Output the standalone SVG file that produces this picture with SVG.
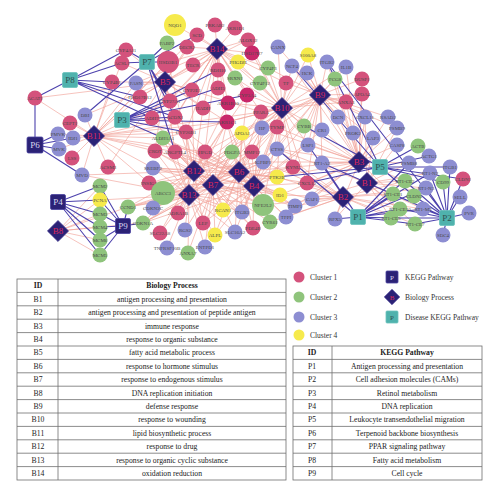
<svg xmlns="http://www.w3.org/2000/svg" width="500" height="498" viewBox="0 0 500 498">
<style>
.ep{fill:none;stroke:#f0a096;stroke-width:0.7;opacity:0.9}
.eq{fill:none;stroke:#4d42ad;stroke-width:1.1}
.c1{fill:#d4527c}.m{fill:#c8286a}.c2{fill:#8fc47c}.c3{fill:#8d8ed2}.c4{fill:#f6ea4c}
.lb{font-family:"Liberation Serif",serif;font-size:5px;fill:#4a4a4a;text-anchor:middle}
.dia{fill:#2b2276;stroke:#3d3490;stroke-width:0.6}
.bt{font-family:"Liberation Serif",serif;font-size:9px;fill:#d8285a;text-anchor:middle}
.kp{fill:#2b2276;stroke:#4a42a0;stroke-width:0.8}
.dp{fill:#4fb2ad;stroke:#6cc3bd;stroke-width:0.8}
.kt{font-family:"Liberation Serif",serif;font-size:9px;fill:#d8d8f0;text-anchor:middle}
.dt{font-family:"Liberation Serif",serif;font-size:9px;fill:#2f4f4f;text-anchor:middle}
.lg{font-family:"Liberation Serif",serif;font-size:7.5px;fill:#333}
.tb{font-family:"Liberation Serif",serif;font-size:7.7px;fill:#222;text-anchor:middle}
.th{font-family:"Liberation Serif",serif;font-size:7.7px;fill:#222;text-anchor:middle;font-weight:bold}
.tl{stroke:#6e6e6e;stroke-width:0.8;fill:none}
</style>
<rect width="500" height="498" fill="#ffffff"/>
<g id="connectors">
<path id="e-B14" class="ep" d="M217 49L175 25M217 49L215 25M217 49L197 35M217 49L235 28M217 49L248 40M217 49L187 47M217 49L252 53M217 49L193 65M217 49L218 70M217 49L168 62M217 49L238 62M217 49L235 78M217 49L268 68M217 49L260 83M217 49L218 88M217 49L192 90M217 49L228 103M217 49L247 95M217 49L203 108M217 49L227 122M217 49L152 118M217 49L170 101M217 49L140 97M217 49L286 83M217 49L163 138M217 49L205 152M217 49L175 117M217 49L186 132M217 49L261 112M217 49L136 83M217 49L304 126"/>
<path id="e-B5" class="ep" d="M165 82L168 62M165 82L167 43M165 82L126 50M165 82L122 63M165 82L112 82M165 82L136 83M165 82L140 97M165 82L170 101M165 82L175 117M165 82L187 47M165 82L193 65M165 82L203 108M165 82L155 151M165 82L197 35M165 82L261 112M165 82L248 40M165 82L35 98M165 82L175 152M165 82L192 90M165 82L152 118M165 82L108 167M165 82L227 122M165 82L85 115"/>
<path id="e-B11" class="ep" d="M94 136L85 115M94 136L70 123M94 136L58 134M94 136L73 138M94 136L59 149M94 136L72 158M94 136L108 167M94 136L82 175M94 136L153 168M94 136L149 183M94 136L163 138M94 136L155 151M94 136L175 152M94 136L140 97M94 136L136 83M94 136L112 82M94 136L197 35M94 136L168 62M94 136L170 101M94 136L175 117M94 136L186 132M94 136L205 152M94 136L261 112M94 136L227 122M94 136L35 98M94 136L126 50"/>
<path id="e-B12" class="ep" d="M194 171L163 138M194 171L155 151M194 171L175 152M194 171L205 152M194 171L186 132M194 171L227 122M194 171L152 118M194 171L175 117M194 171L163 193M194 171L149 183M194 171L153 168M194 171L128 207M194 171L143 223M194 171L160 233M194 171L178 213M194 171L223 210M194 171L263 205M194 171L203 223M194 171L232 152M194 171L252 152M194 171L242 133M194 171L262 128M194 171L263 162M194 171L277 177M194 171L192 90M194 171L247 95M194 171L168 62M194 171L280 195M194 171L253 228M194 171L153 208M194 171L82 175M194 171L203 108M194 171L228 103"/>
<path id="e-B13" class="ep" d="M189 195L163 193M189 195L128 207M189 195L143 223M189 195L153 208M189 195L160 233M189 195L167 248M189 195L185 230M189 195L205 247M189 195L188 253M189 195L215 235M189 195L203 223M189 195L178 213M189 195L223 210M189 195L149 183M189 195L153 168M189 195L163 138M189 195L175 152M189 195L205 152M189 195L227 122M189 195L186 132M189 195L263 205M189 195L242 212M189 195L235 232M189 195L82 175M189 195L155 151M189 195L232 152M189 195L242 133M189 195L252 152M189 195L100 200"/>
<path id="e-B7" class="ep" d="M213 185L163 193M213 185L178 213M213 185L203 223M213 185L223 210M213 185L215 235M213 185L235 232M213 185L242 212M213 185L263 205M213 185L270 222M213 185L253 228M213 185L232 152M213 185L252 152M213 185L242 133M213 185L262 128M213 185L205 152M213 185L175 152M213 185L155 151M213 185L163 138M213 185L227 122M213 185L186 132M213 185L261 112M213 185L143 223M213 185L128 207M213 185L205 247M213 185L188 253M213 185L263 162M213 185L293 167M213 185L295 206M213 185L277 177M213 185L280 195M213 185L277 127M213 185L153 168M213 185L149 183M213 185L185 230"/>
<path id="e-B6" class="ep" d="M239 172L263 205M239 172L223 210M239 172L242 212M239 172L253 228M239 172L280 195M239 172L277 177M239 172L263 162M239 172L252 152M239 172L232 152M239 172L242 133M239 172L262 128M239 172L277 149M239 172L277 127M239 172L261 112M239 172L227 122M239 172L247 95M239 172L186 132M239 172L205 152M239 172L175 152M239 172L163 138M239 172L155 151M239 172L163 193M239 172L203 223M239 172L143 223M239 172L128 207M239 172L153 168M239 172L149 183M239 172L270 222M239 172L295 206M239 172L286 217M239 172L293 167M239 172L307 183M239 172L235 232M239 172L215 235"/>
<path id="e-B4" class="ep" d="M254 186L263 205M254 186L280 195M254 186L277 177M254 186L270 222M254 186L286 217M254 186L295 206M254 186L312 199M254 186L293 167M254 186L307 183M254 186L263 162M254 186L242 212M254 186L253 228M254 186L235 232M254 186L223 210M254 186L203 223M254 186L215 235M254 186L277 149M254 186L308 145M254 186L262 128M254 186L242 133M254 186L252 152M254 186L232 152M254 186L261 112M254 186L277 127M254 186L322 130M254 186L304 126M254 186L163 193M254 186L128 207M254 186L143 223M254 186L227 122M254 186L205 152M254 186L175 152M254 186L163 138M254 186L153 168"/>
<path id="e-B10" class="ep" d="M282 108L286 83M282 108L261 112M282 108L260 83M282 108L268 68M282 108L235 78M282 108L238 62M282 108L252 53M282 108L248 40M282 108L278 47M282 108L308 55M282 108L292 66M282 108L307 73M282 108L262 128M282 108L277 127M282 108L304 126M282 108L277 149M282 108L263 162M282 108L293 167M282 108L242 133M282 108L227 122M282 108L252 152M282 108L232 152M282 108L322 130M282 108L308 145M282 108L242 212M282 108L307 183M282 108L277 177M282 108L263 205M282 108L362 94M282 108L346 102M282 108L247 95M282 108L228 103M282 108L163 138M282 108L205 152M282 108L346 67"/>
<path id="e-B9" class="ep" d="M320 95L308 55M320 95L292 66M320 95L307 73M320 95L327 62M320 95L346 67M320 95L335 79M320 95L362 79M320 95L362 94M320 95L346 102M320 95L338 117M320 95L365 117M320 95L388 117M320 95L304 126M320 95L322 130M320 95L308 145M320 95L262 128M320 95L277 127M320 95L277 149M320 95L286 83M320 95L397 128M320 95L353 133M320 95L278 47M320 95L307 183M320 95L293 167M320 95L263 162M320 95L373 138M320 95L322 163M320 95L242 133M320 95L261 112M320 95L268 68"/>
<path id="e-B3" class="ep" d="M359 162L338 117M359 162L365 117M359 162L388 117M359 162L353 133M359 162L373 138M359 162L397 128M359 162L397 145M359 162L322 163M359 162L409 163M359 162L308 145M359 162L322 130M359 162L304 126M359 162L327 62M359 162L346 67M359 162L346 102M359 162L362 94M359 162L362 79M359 162L335 79M359 162L307 73M359 162L292 66M359 162L277 149M359 162L263 162M359 162L293 167M359 162L307 183M359 162L312 199M359 162L335 219M359 162L262 128M359 162L277 127M359 162L277 177M359 162L405 181M359 162L393 194M359 162L280 195M359 162L295 206M359 162L286 217"/>
<path id="e-B1" class="ep" d="M367 183L322 163M367 183L430 173M367 183L426 188M367 183L423 209M367 183L405 181M367 183L393 194M367 183L400 209M367 183L391 218M367 183L415 224M367 183L335 219M367 183L409 163M367 183L397 128M367 183L373 138M367 183L397 145M367 183L277 149M367 183L312 199M367 183L365 117"/>
<path id="e-B2" class="ep" d="M343 197L322 163M343 197L426 188M343 197L423 209M343 197L393 194M343 197L400 209M343 197L391 218M343 197L415 224M343 197L405 181M343 197L335 219M343 197L312 199M343 197L286 217M343 197L307 183M343 197L293 167M343 197L277 177M343 197L280 195M343 197L295 206M343 197L277 149M343 197L263 162M343 197L263 205M343 197L270 222"/>
<path id="e-B8" class="ep" d="M58 231L100 186M58 231L100 200M58 231L100 214M58 231L100 227M58 231L100 240M58 231L100 255M58 231L128 207M58 231L143 223"/>
<path id="e-P1" class="eq" d="M358 217L335 219M358 217L391 218M358 217L400 209M358 217L393 194M358 217L415 224M358 217L423 209M358 217L426 188M358 217L430 173M358 217L405 181M358 217L322 163M358 217L277 149M358 217L308 145M358 217L409 163"/>
<path id="e-P2" class="eq" d="M447 218L430 173M447 218L426 188M447 218L423 209M447 218L405 181M447 218L393 194M447 218L400 209M447 218L391 218M447 218L415 224M447 218L414 196M447 218L443 182M447 218L463 179M447 218L460 197M447 218L469 213M447 218L443 235M447 218L450 167M447 218L327 62M447 218L322 163"/>
<path id="e-P5" class="eq" d="M380 167L418 146M380 167L429 156M380 167L450 167M380 167L414 196M380 167L463 179M380 167L327 62M380 167L292 66M380 167L304 126M380 167L277 177M380 167L307 183M380 167L443 182"/>
<path id="e-P3" class="eq" d="M122 120L152 118M122 120L163 138M122 120L218 70M122 120L186 132M122 120L247 95M122 120L192 90M122 120L227 122M122 120L218 88M122 120L175 117"/>
<path id="e-P6" class="eq" d="M35 145L35 98M35 145L58 134M35 145L73 138M35 145L59 149M35 145L82 175"/>
<path id="e-P7" class="eq" d="M147 62L167 43M147 62L126 50M147 62L122 63M147 62L85 115M147 62L197 35M147 62L170 101M147 62L175 117M147 62L175 152M147 62L168 62"/>
<path id="e-P8" class="eq" d="M70 80L126 50M70 80L122 63M70 80L112 82M70 80L35 98M70 80L152 118M70 80L175 117M70 80L140 97"/>
<path id="e-P4" class="eq" d="M58 202L100 186M58 202L100 200M58 202L100 214M58 202L100 227M58 202L100 240M58 202L100 255"/>
<path id="e-P9" class="eq" d="M123 226L100 186M123 226L100 200M123 226L100 214M123 226L100 227M123 226L100 240M123 226L100 255M123 226L128 207M123 226L143 223"/>
</g>
<g id="nodes">
<g id="NQO1"><circle class="c4" cx="175" cy="25" r="11"/><text class="lb" x="175" y="26.8">NQO1</text></g>
<g id="PRKAB2"><circle class="c1" cx="215" cy="25" r="7.5"/><text class="lb" x="215" y="26.8">PRKAB2</text></g>
<g id="SCD"><circle class="c1" cx="197" cy="35" r="7.5"/><text class="lb" x="197" y="36.8">SCD</text></g>
<g id="AKR1D1"><circle class="c1" cx="235" cy="28" r="7.5"/><text class="lb" x="235" y="29.8">AKR1D1</text></g>
<g id="ALOX12"><circle class="c1" cx="248" cy="40" r="7.5"/><text class="lb" x="248" y="41.8">ALOX12</text></g>
<g id="DECR2"><circle class="c1" cx="187" cy="47" r="7.5"/><text class="lb" x="187" y="48.8">DECR2</text></g>
<g id="HSD17B7"><circle class="m" cx="252" cy="53" r="7.5"/><text class="lb" x="252" y="54.8">HSD17B7</text></g>
<g id="TECR"><circle class="c1" cx="193" cy="65" r="7.5"/><text class="lb" x="193" y="66.8">TECR</text></g>
<g id="RDH10"><circle class="c1" cx="218" cy="70" r="7.5"/><text class="lb" x="218" y="71.8">RDH10</text></g>
<g id="FABP2"><circle class="c2" cx="167" cy="43" r="7.5"/><text class="lb" x="167" y="44.8">FABP2</text></g>
<g id="HSD3B1"><circle class="c1" cx="168" cy="62" r="11"/><text class="lb" x="168" y="63.8">HSD3B1</text></g>
<g id="PHGDH"><circle class="c4" cx="238" cy="62" r="7.5"/><text class="lb" x="238" y="63.8">PHGDH</text></g>
<g id="SRXN1"><circle class="c2" cx="235" cy="78" r="7.5"/><text class="lb" x="235" y="79.8">SRXN1</text></g>
<g id="CYP4F3"><circle class="c2" cx="268" cy="68" r="7.5"/><text class="lb" x="268" y="69.8">CYP4F3</text></g>
<g id="CYP4F12"><circle class="c2" cx="260" cy="83" r="7.5"/><text class="lb" x="260" y="84.8">CYP4F12</text></g>
<g id="TF"><circle class="c1" cx="286" cy="83" r="7.5"/><text class="lb" x="286" y="84.8">TF</text></g>
<g id="ADH5"><circle class="c1" cx="218" cy="88" r="7.5"/><text class="lb" x="218" y="89.8">ADH5</text></g>
<g id="CYP2E1"><circle class="c1" cx="192" cy="90" r="7.5"/><text class="lb" x="192" y="91.8">CYP2E1</text></g>
<g id="AKR1B10"><circle class="m" cx="228" cy="103" r="7.5"/><text class="lb" x="228" y="104.8">AKR1B10</text></g>
<g id="CYP3A4"><circle class="m" cx="247" cy="95" r="7.5"/><text class="lb" x="247" y="96.8">CYP3A4</text></g>
<g id="HADH"><circle class="c1" cx="203" cy="108" r="7.5"/><text class="lb" x="203" y="109.8">HADH</text></g>
<g id="AKR1C1"><circle class="m" cx="227" cy="122" r="7.5"/><text class="lb" x="227" y="123.8">AKR1C1</text></g>
<g id="ADH7"><circle class="c1" cx="152" cy="118" r="7.5"/><text class="lb" x="152" y="119.8">ADH7</text></g>
<g id="CYP27A1"><circle class="c1" cx="170" cy="101" r="7.5"/><text class="lb" x="170" y="102.8">CYP27A1</text></g>
<g id="HSD17B12"><circle class="c1" cx="140" cy="97" r="7.5"/><text class="lb" x="140" y="98.8">HSD17B12</text></g>
<g id="ALDH1A1"><circle class="c2" cx="163" cy="138" r="7.5"/><text class="lb" x="163" y="139.8">ALDH1A1</text></g>
<g id="HPGD"><circle class="c1" cx="205" cy="152" r="7.5"/><text class="lb" x="205" y="153.8">HPGD</text></g>
<g id="ACOX1"><circle class="c1" cx="175" cy="117" r="7.5"/><text class="lb" x="175" y="118.8">ACOX1</text></g>
<g id="CYP26B1"><circle class="c1" cx="186" cy="132" r="7.5"/><text class="lb" x="186" y="133.8">CYP26B1</text></g>
<g id="PPARA"><circle class="c1" cx="261" cy="112" r="7.5"/><text class="lb" x="261" y="113.8">PPARA</text></g>
<g id="CYP4A11"><circle class="c1" cx="126" cy="50" r="7.5"/><text class="lb" x="126" y="51.8">CYP4A11</text></g>
<g id="ACSL1"><circle class="c1" cx="122" cy="63" r="7.5"/><text class="lb" x="122" y="64.8">ACSL1</text></g>
<g id="CYP4B1"><circle class="c1" cx="112" cy="82" r="7.5"/><text class="lb" x="112" y="83.8">CYP4B1</text></g>
<g id="FASN"><circle class="c3" cx="136" cy="83" r="7.5"/><text class="lb" x="136" y="84.8">FASN</text></g>
<g id="CROT"><circle class="c1" cx="155" cy="151" r="7.5"/><text class="lb" x="155" y="152.8">CROT</text></g>
<g id="ANGPTL4"><circle class="c1" cx="175" cy="152" r="7.5"/><text class="lb" x="175" y="153.8">ANGPTL4</text></g>
<g id="ACAT1"><circle class="c1" cx="35" cy="98" r="7.5"/><text class="lb" x="35" y="99.8">ACAT1</text></g>
<g id="ACSM3"><circle class="c1" cx="108" cy="167" r="7.5"/><text class="lb" x="108" y="168.8">ACSM3</text></g>
<g id="DBI"><circle class="c3" cx="85" cy="115" r="7.5"/><text class="lb" x="85" y="116.8">DBI</text></g>
<g id="CEPT1"><circle class="c1" cx="70" cy="123" r="7.5"/><text class="lb" x="70" y="124.8">CEPT1</text></g>
<g id="PMVK"><circle class="c3" cx="58" cy="134" r="7.5"/><text class="lb" x="58" y="135.8">PMVK</text></g>
<g id="IDI1"><circle class="c3" cx="73" cy="138" r="7.5"/><text class="lb" x="73" y="139.8">IDI1</text></g>
<g id="MVK"><circle class="c3" cx="59" cy="149" r="7.5"/><text class="lb" x="59" y="150.8">MVK</text></g>
<g id="LSS"><circle class="c1" cx="72" cy="158" r="7.5"/><text class="lb" x="72" y="159.8">LSS</text></g>
<g id="MVD"><circle class="c3" cx="82" cy="175" r="7.5"/><text class="lb" x="82" y="176.8">MVD</text></g>
<g id="SREBF2"><circle class="c3" cx="153" cy="168" r="7.5"/><text class="lb" x="153" y="169.8">SREBF2</text></g>
<g id="INSIG1"><circle class="c1" cx="149" cy="183" r="7.5"/><text class="lb" x="149" y="184.8">INSIG1</text></g>
<g id="ABCC3"><circle class="c2" cx="163" cy="193" r="12"/><text class="lb" x="163" y="194.8">ABCC3</text></g>
<g id="CCND1"><circle class="c2" cx="128" cy="207" r="7.5"/><text class="lb" x="128" y="208.8">CCND1</text></g>
<g id="CDKN1A"><circle class="c2" cx="143" cy="223" r="7.5"/><text class="lb" x="143" y="224.8">CDKN1A</text></g>
<g id="SLC22A8"><circle class="c1" cx="160" cy="233" r="7.5"/><text class="lb" x="160" y="234.8">SLC22A8</text></g>
<g id="ADRA1B"><circle class="c1" cx="178" cy="213" r="7.5"/><text class="lb" x="178" y="214.8">ADRA1B</text></g>
<g id="RCAN1"><circle class="c4" cx="223" cy="210" r="7.5"/><text class="lb" x="223" y="211.8">RCAN1</text></g>
<g id="NFE2L2"><circle class="c2" cx="263" cy="205" r="11"/><text class="lb" x="263" y="206.8">NFE2L2</text></g>
<g id="LEP"><circle class="c1" cx="203" cy="223" r="7.5"/><text class="lb" x="203" y="224.8">LEP</text></g>
<g id="PDGFA"><circle class="c2" cx="232" cy="152" r="7.5"/><text class="lb" x="232" y="153.8">PDGFA</text></g>
<g id="MMP12"><circle class="c1" cx="252" cy="152" r="7.5"/><text class="lb" x="252" y="153.8">MMP12</text></g>
<g id="APOA1"><circle class="c4" cx="242" cy="133" r="7.5"/><text class="lb" x="242" y="134.8">APOA1</text></g>
<g id="HP"><circle class="c3" cx="262" cy="128" r="7.5"/><text class="lb" x="262" y="129.8">HP</text></g>
<g id="IGFBP1"><circle class="c3" cx="263" cy="162" r="7.5"/><text class="lb" x="263" y="163.8">IGFBP1</text></g>
<g id="PTK2B"><circle class="c4" cx="277" cy="177" r="7.5"/><text class="lb" x="277" y="178.8">PTK2B</text></g>
<g id="ID1"><circle class="c4" cx="280" cy="195" r="7.5"/><text class="lb" x="280" y="196.8">ID1</text></g>
<g id="PDE4B"><circle class="c1" cx="253" cy="228" r="7.5"/><text class="lb" x="253" y="229.8">PDE4B</text></g>
<g id="CDKN2C"><circle class="c3" cx="153" cy="208" r="7.5"/><text class="lb" x="153" y="209.8">CDKN2C</text></g>
<g id="TNFRSF10B"><circle class="c3" cx="167" cy="248" r="7.5"/><text class="lb" x="167" y="249.8">TNFRSF10B</text></g>
<g id="RGS2"><circle class="c3" cx="185" cy="230" r="7.5"/><text class="lb" x="185" y="231.8">RGS2</text></g>
<g id="ENTPD1"><circle class="c3" cx="205" cy="247" r="7.5"/><text class="lb" x="205" y="248.8">ENTPD1</text></g>
<g id="ANXA7"><circle class="c2" cx="188" cy="253" r="7.5"/><text class="lb" x="188" y="254.8">ANXA7</text></g>
<g id="ALPL"><circle class="c4" cx="215" cy="235" r="7.5"/><text class="lb" x="215" y="236.8">ALPL</text></g>
<g id="ITGB3"><circle class="c3" cx="242" cy="212" r="7.5"/><text class="lb" x="242" y="213.8">ITGB3</text></g>
<g id="SLC16A2"><circle class="c3" cx="235" cy="232" r="7.5"/><text class="lb" x="235" y="233.8">SLC16A2</text></g>
<g id="CYR61"><circle class="c2" cx="270" cy="222" r="7.5"/><text class="lb" x="270" y="223.8">CYR61</text></g>
<g id="TFPI"><circle class="c3" cx="286" cy="217" r="7.5"/><text class="lb" x="286" y="218.8">TFPI</text></g>
<g id="TIMP1"><circle class="c3" cx="295" cy="206" r="7.5"/><text class="lb" x="295" y="207.8">TIMP1</text></g>
<g id="CAP1"><circle class="c3" cx="312" cy="199" r="7.5"/><text class="lb" x="312" y="200.8">CAP1</text></g>
<g id="KYNU"><circle class="c1" cx="293" cy="167" r="7.5"/><text class="lb" x="293" y="168.8">KYNU</text></g>
<g id="CXCL12"><circle class="c1" cx="307" cy="183" r="7.5"/><text class="lb" x="307" y="184.8">CXCL12</text></g>
<g id="CTSS"><circle class="c3" cx="277" cy="149" r="7.5"/><text class="lb" x="277" y="150.8">CTSS</text></g>
<g id="LSP1"><circle class="c3" cx="308" cy="145" r="7.5"/><text class="lb" x="308" y="146.8">LSP1</text></g>
<g id="CR1"><circle class="c3" cx="322" cy="130" r="7.5"/><text class="lb" x="322" y="131.8">CR1</text></g>
<g id="CYBB"><circle class="c2" cx="304" cy="126" r="7.5"/><text class="lb" x="304" y="127.8">CYBB</text></g>
<g id="TYMP"><circle class="c1" cx="277" cy="127" r="7.5"/><text class="lb" x="277" y="128.8">TYMP</text></g>
<g id="CANX"><circle class="c3" cx="278" cy="47" r="7.5"/><text class="lb" x="278" y="48.8">CANX</text></g>
<g id="S100A8"><circle class="c4" cx="308" cy="55" r="7.5"/><text class="lb" x="308" y="56.8">S100A8</text></g>
<g id="NCF4"><circle class="c3" cx="292" cy="66" r="7.5"/><text class="lb" x="292" y="67.8">NCF4</text></g>
<g id="HCK"><circle class="c3" cx="307" cy="73" r="7.5"/><text class="lb" x="307" y="74.8">HCK</text></g>
<g id="ITGB2"><circle class="c3" cx="327" cy="62" r="7.5"/><text class="lb" x="327" y="63.8">ITGB2</text></g>
<g id="IL1B"><circle class="c3" cx="346" cy="67" r="7.5"/><text class="lb" x="346" y="68.8">IL1B</text></g>
<g id="FCG8"><circle class="c2" cx="335" cy="79" r="7.5"/><text class="lb" x="335" y="80.8">FCG8</text></g>
<g id="DUSP1"><circle class="c1" cx="362" cy="79" r="7.5"/><text class="lb" x="362" y="80.8">DUSP1</text></g>
<g id="APOA4"><circle class="c1" cx="362" cy="94" r="7.5"/><text class="lb" x="362" y="95.8">APOA4</text></g>
<g id="ANXA3"><circle class="c1" cx="346" cy="102" r="7.5"/><text class="lb" x="346" y="103.8">ANXA3</text></g>
<g id="DCN"><circle class="c3" cx="338" cy="117" r="7.5"/><text class="lb" x="338" y="118.8">DCN</text></g>
<g id="CXCL11"><circle class="c3" cx="365" cy="117" r="7.5"/><text class="lb" x="365" y="118.8">CXCL11</text></g>
<g id="RSAD2"><circle class="c3" cx="388" cy="117" r="7.5"/><text class="lb" x="388" y="118.8">RSAD2</text></g>
<g id="PROK2"><circle class="c3" cx="353" cy="133" r="7.5"/><text class="lb" x="353" y="134.8">PROK2</text></g>
<g id="LAP3"><circle class="c3" cx="373" cy="138" r="7.5"/><text class="lb" x="373" y="139.8">LAP3</text></g>
<g id="PSMB9"><circle class="c3" cx="397" cy="128" r="7.5"/><text class="lb" x="397" y="129.8">PSMB9</text></g>
<g id="CASP8"><circle class="c3" cx="397" cy="145" r="7.5"/><text class="lb" x="397" y="146.8">CASP8</text></g>
<g id="RT1-A2"><circle class="c3" cx="322" cy="163" r="7.5"/><text class="lb" x="322" y="164.8">RT1-A2</text></g>
<g id="PSMB8"><circle class="c3" cx="409" cy="163" r="7.5"/><text class="lb" x="409" y="164.8">PSMB8</text></g>
<g id="ACTB"><circle class="c2" cx="418" cy="146" r="7.5"/><text class="lb" x="418" y="147.8">ACTB</text></g>
<g id="ACTG1"><circle class="c3" cx="429" cy="156" r="7.5"/><text class="lb" x="429" y="157.8">ACTG1</text></g>
<g id="ITGB1"><circle class="c3" cx="450" cy="167" r="7.5"/><text class="lb" x="450" y="168.8">ITGB1</text></g>
<g id="RT1-N2"><circle class="c3" cx="430" cy="173" r="7.5"/><text class="lb" x="430" y="174.8">RT1-N2</text></g>
<g id="CD99"><circle class="c2" cx="443" cy="182" r="7.5"/><text class="lb" x="443" y="183.8">CD99</text></g>
<g id="CLDN1"><circle class="c1" cx="463" cy="179" r="7.5"/><text class="lb" x="463" y="180.8">CLDN1</text></g>
<g id="RT1-CE2"><circle class="c2" cx="405" cy="181" r="7.5"/><text class="lb" x="405" y="182.8">RT1-CE2</text></g>
<g id="RT1-N3"><circle class="c3" cx="426" cy="188" r="7.5"/><text class="lb" x="426" y="189.8">RT1-N3</text></g>
<g id="RT1-CE1"><circle class="c2" cx="393" cy="194" r="7.5"/><text class="lb" x="393" y="195.8">RT1-CE1</text></g>
<g id="CLDN5"><circle class="c2" cx="414" cy="196" r="7.5"/><text class="lb" x="414" y="197.8">CLDN5</text></g>
<g id="SELL"><circle class="c3" cx="460" cy="197" r="7.5"/><text class="lb" x="460" y="198.8">SELL</text></g>
<g id="RT1-CE10"><circle class="c2" cx="400" cy="209" r="7.5"/><text class="lb" x="400" y="210.8">RT1-CE10</text></g>
<g id="RT1-M3"><circle class="c3" cx="423" cy="209" r="7.5"/><text class="lb" x="423" y="210.8">RT1-M3</text></g>
<g id="PVR"><circle class="c3" cx="469" cy="213" r="7.5"/><text class="lb" x="469" y="214.8">PVR</text></g>
<g id="RT1-CE5"><circle class="c2" cx="391" cy="218" r="7.5"/><text class="lb" x="391" y="219.8">RT1-CE5</text></g>
<g id="RT1-CE7"><circle class="c2" cx="415" cy="224" r="7.5"/><text class="lb" x="415" y="225.8">RT1-CE7</text></g>
<g id="SDC4"><circle class="c3" cx="443" cy="235" r="7.5"/><text class="lb" x="443" y="236.8">SDC4</text></g>
<g id="RFX5"><circle class="c3" cx="335" cy="219" r="7.5"/><text class="lb" x="335" y="220.8">RFX5</text></g>
<g id="MCM2"><circle class="c2" cx="100" cy="186" r="7.5"/><text class="lb" x="100" y="187.8">MCM2</text></g>
<g id="PCNA"><circle class="c4" cx="100" cy="200" r="7.5"/><text class="lb" x="100" y="201.8">PCNA</text></g>
<g id="MCM3"><circle class="c2" cx="100" cy="214" r="7.5"/><text class="lb" x="100" y="215.8">MCM3</text></g>
<g id="MCM4"><circle class="c2" cx="100" cy="227" r="7.5"/><text class="lb" x="100" y="228.8">MCM4</text></g>
<g id="MCM6"><circle class="c2" cx="100" cy="240" r="7.5"/><text class="lb" x="100" y="241.8">MCM6</text></g>
<g id="MCM5"><circle class="c2" cx="100" cy="255" r="7.5"/><text class="lb" x="100" y="256.8">MCM5</text></g>
</g>
<g id="hubs">
<g id="B1"><rect class="dia" x="-7.5" y="-7.5" width="15" height="15" transform="translate(367 183) rotate(45)"/><text class="bt" x="367" y="186">B1</text></g>
<g id="B2"><rect class="dia" x="-7.5" y="-7.5" width="15" height="15" transform="translate(343 197) rotate(45)"/><text class="bt" x="343" y="200">B2</text></g>
<g id="B3"><rect class="dia" x="-7.5" y="-7.5" width="15" height="15" transform="translate(359 162) rotate(45)"/><text class="bt" x="359" y="165">B3</text></g>
<g id="B4"><rect class="dia" x="-7.5" y="-7.5" width="15" height="15" transform="translate(254 186) rotate(45)"/><text class="bt" x="254" y="189">B4</text></g>
<g id="B5"><rect class="dia" x="-7.5" y="-7.5" width="15" height="15" transform="translate(165 82) rotate(45)"/><text class="bt" x="165" y="85">B5</text></g>
<g id="B6"><rect class="dia" x="-7.5" y="-7.5" width="15" height="15" transform="translate(239 172) rotate(45)"/><text class="bt" x="239" y="175">B6</text></g>
<g id="B7"><rect class="dia" x="-7.5" y="-7.5" width="15" height="15" transform="translate(213 185) rotate(45)"/><text class="bt" x="213" y="188">B7</text></g>
<g id="B8"><rect class="dia" x="-7.5" y="-7.5" width="15" height="15" transform="translate(58 231) rotate(45)"/><text class="bt" x="58" y="234">B8</text></g>
<g id="B9"><rect class="dia" x="-7.5" y="-7.5" width="15" height="15" transform="translate(320 95) rotate(45)"/><text class="bt" x="320" y="98">B9</text></g>
<g id="B10"><rect class="dia" x="-7.5" y="-7.5" width="15" height="15" transform="translate(282 108) rotate(45)"/><text class="bt" x="282" y="111">B10</text></g>
<g id="B11"><rect class="dia" x="-7.5" y="-7.5" width="15" height="15" transform="translate(94 136) rotate(45)"/><text class="bt" x="94" y="139">B11</text></g>
<g id="B12"><rect class="dia" x="-7.5" y="-7.5" width="15" height="15" transform="translate(194 171) rotate(45)"/><text class="bt" x="194" y="174">B12</text></g>
<g id="B13"><rect class="dia" x="-7.5" y="-7.5" width="15" height="15" transform="translate(189 195) rotate(45)"/><text class="bt" x="189" y="198">B13</text></g>
<g id="B14"><rect class="dia" x="-7.5" y="-7.5" width="15" height="15" transform="translate(217 49) rotate(45)"/><text class="bt" x="217" y="52">B14</text></g>
<g id="P1"><rect class="dp" x="350.5" y="209.5" width="15" height="15" rx="1.5"/><text class="dt" x="358" y="220.2">P1</text></g>
<g id="P2"><rect class="dp" x="439.5" y="210.5" width="15" height="15" rx="1.5"/><text class="dt" x="447" y="221.2">P2</text></g>
<g id="P3"><rect class="dp" x="114.5" y="112.5" width="15" height="15" rx="1.5"/><text class="dt" x="122" y="123.2">P3</text></g>
<g id="P4"><rect class="kp" x="50.5" y="194.5" width="15" height="15" rx="1.5"/><text class="kt" x="58" y="205.2">P4</text></g>
<g id="P5"><rect class="dp" x="372.5" y="159.5" width="15" height="15" rx="1.5"/><text class="dt" x="380" y="170.2">P5</text></g>
<g id="P6"><rect class="kp" x="27" y="137" width="16" height="16" rx="1.5"/><text class="kt" x="35" y="148.2">P6</text></g>
<g id="P7"><rect class="dp" x="139.5" y="54.5" width="15" height="15" rx="1.5"/><text class="dt" x="147" y="65.2">P7</text></g>
<g id="P8"><rect class="dp" x="62.5" y="72.5" width="15" height="15" rx="1.5"/><text class="dt" x="70" y="83.2">P8</text></g>
<g id="P9"><rect class="kp" x="115.5" y="218.5" width="15" height="15" rx="1.5"/><text class="kt" x="123" y="229.2">P9</text></g>
</g>
<g id="legend">
<circle class="c1" cx="299" cy="277" r="5.5"/><text class="lg" x="310" y="279.6">Cluster 1</text>
<circle class="c2" cx="299" cy="297" r="5.5"/><text class="lg" x="310" y="299.6">Cluster 2</text>
<circle class="c3" cx="299" cy="317" r="5.5"/><text class="lg" x="310" y="319.6">Cluster 3</text>
<circle class="c4" cx="299" cy="335" r="5.5"/><text class="lg" x="310" y="337.6">Cluster 4</text>
<rect class="kp" x="386" y="271" width="12" height="12" rx="1"/><text x="392" y="280" style="font-family:'Liberation Serif',serif;font-size:7px;fill:#d8d8f0;text-anchor:middle">P</text><text class="lg" x="405" y="279.6">KEGG Pathway</text>
<rect class="dia" x="-5.5" y="-5.5" width="11" height="11" transform="translate(392 297) rotate(45)"/><text x="392" y="299.5" style="font-family:'Liberation Serif',serif;font-size:7px;fill:#d8285a;text-anchor:middle">B</text><text class="lg" x="405" y="299.6">Biology Process</text>
<rect class="dp" x="386" y="311" width="12" height="12" rx="1"/><text x="392" y="320" style="font-family:'Liberation Serif',serif;font-size:7px;fill:#2f4f4f;text-anchor:middle">P</text><text class="lg" x="405" y="319.6">Disease KEGG Pathway</text>
</g>
<g id="table-bp">
<rect class="tl" x="17" y="279" width="269" height="201"/>
<path class="tl" d="M58 279V480M17 292.4H286M17 305.8H286M17 319.2H286M17 332.6H286M17 346H286M17 359.4H286M17 372.8H286M17 386.2H286M17 399.6H286M17 413H286M17 426.4H286M17 439.8H286M17 453.2H286M17 466.6H286"/>
<text class="th" x="38" y="288.4">ID</text><text class="th" x="172" y="288.4">Biology Process</text>
<text class="tb" x="38" y="301.8">B1</text><text class="tb" x="172" y="301.8">antigen processing and presentation</text>
<text class="tb" x="38" y="315.2">B2</text><text class="tb" x="172" y="315.2">antigen processing and presentation of peptide antigen</text>
<text class="tb" x="38" y="328.6">B3</text><text class="tb" x="172" y="328.6">immune response</text>
<text class="tb" x="38" y="342">B4</text><text class="tb" x="172" y="342">response to organic substance</text>
<text class="tb" x="38" y="355.4">B5</text><text class="tb" x="172" y="355.4">fatty acid metabolic process</text>
<text class="tb" x="38" y="368.8">B6</text><text class="tb" x="172" y="368.8">response to hormone stimulus</text>
<text class="tb" x="38" y="382.2">B7</text><text class="tb" x="172" y="382.2">response to endogenous stimulus</text>
<text class="tb" x="38" y="395.6">B8</text><text class="tb" x="172" y="395.6">DNA replication initiation</text>
<text class="tb" x="38" y="409">B9</text><text class="tb" x="172" y="409">defense response</text>
<text class="tb" x="38" y="422.4">B10</text><text class="tb" x="172" y="422.4">response to wounding</text>
<text class="tb" x="38" y="435.8">B11</text><text class="tb" x="172" y="435.8">lipid biosynthetic process</text>
<text class="tb" x="38" y="449.2">B12</text><text class="tb" x="172" y="449.2">response to drug</text>
<text class="tb" x="38" y="462.6">B13</text><text class="tb" x="172" y="462.6">response to organic cyclic substance</text>
<text class="tb" x="38" y="476">B14</text><text class="tb" x="172" y="476">oxidation reduction</text>
</g>
<g id="table-kegg">
<rect class="tl" x="293" y="346" width="189" height="134"/>
<path class="tl" d="M332 346V480M293 359.4H482M293 372.8H482M293 386.2H482M293 399.6H482M293 413H482M293 426.4H482M293 439.8H482M293 453.2H482M293 466.6H482"/>
<text class="th" x="312" y="355.4">ID</text><text class="th" x="407" y="355.4">KEGG Pathway</text>
<text class="tb" x="312" y="368.8">P1</text><text class="tb" x="407" y="368.8">Antigen processing and presentation</text>
<text class="tb" x="312" y="382.2">P2</text><text class="tb" x="407" y="382.2">Cell adhesion molecules (CAMs)</text>
<text class="tb" x="312" y="395.6">P3</text><text class="tb" x="407" y="395.6">Retinol metabolism</text>
<text class="tb" x="312" y="409">P4</text><text class="tb" x="407" y="409">DNA replication</text>
<text class="tb" x="312" y="422.4">P5</text><text class="tb" x="407" y="422.4">Leukocyte transendothelial migration</text>
<text class="tb" x="312" y="435.8">P6</text><text class="tb" x="407" y="435.8">Terpenoid backbone biosynthesis</text>
<text class="tb" x="312" y="449.2">P7</text><text class="tb" x="407" y="449.2">PPAR signaling pathway</text>
<text class="tb" x="312" y="462.6">P8</text><text class="tb" x="407" y="462.6">Fatty acid metabolism</text>
<text class="tb" x="312" y="476">P9</text><text class="tb" x="407" y="476">Cell cycle</text>
</g>
</svg>
